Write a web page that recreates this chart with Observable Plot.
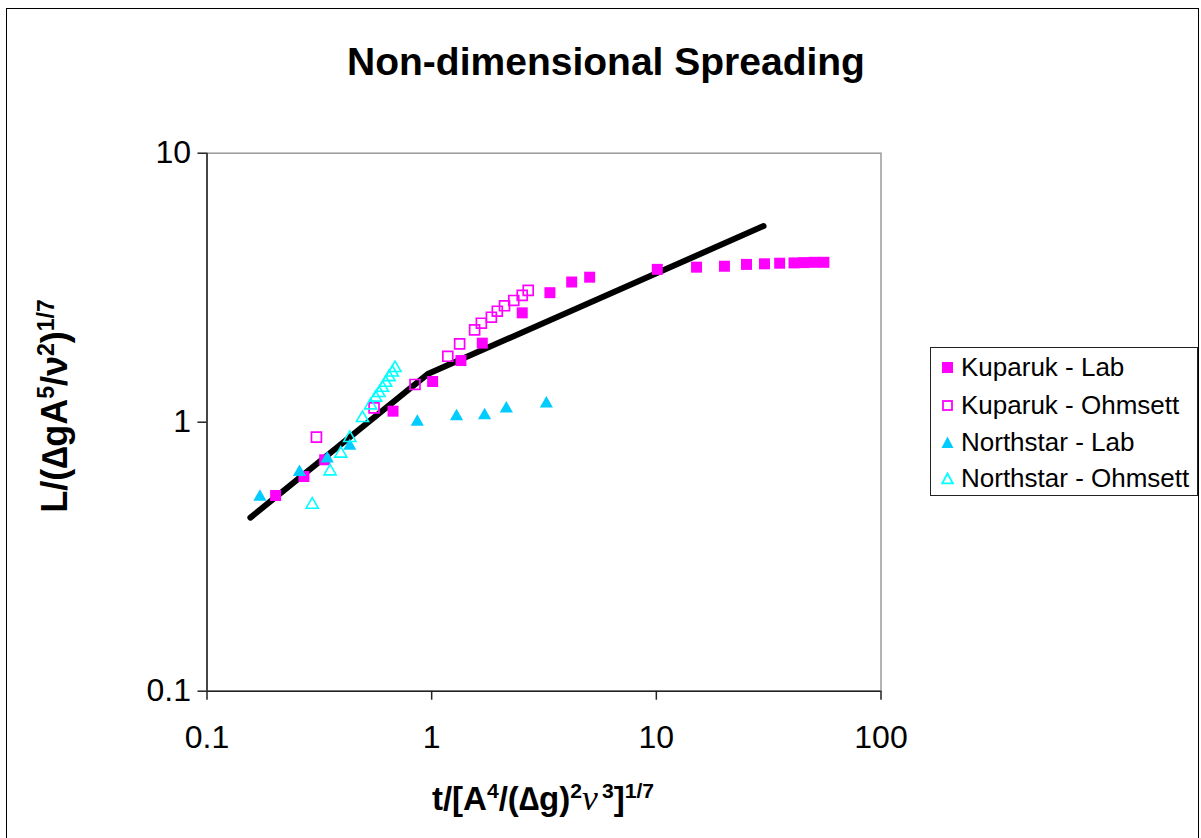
<!DOCTYPE html>
<html><head><meta charset="utf-8">
<script src="https://cdn.jsdelivr.net/npm/d3@7"></script>
<script src="https://cdn.jsdelivr.net/npm/@observablehq/plot@0.6"></script>
<style>
body{margin:0;background:#fff;font-family:"Liberation Sans",Arial,sans-serif;color:#000}
#wrap{position:relative;width:1201px;height:838px;overflow:hidden;background:#fff}
#chart{position:absolute;left:0;top:0}
#border{position:absolute;left:6px;top:8px;width:1193px;height:900px;border:1px solid #000;box-sizing:border-box;z-index:3;pointer-events:none}
#title{position:absolute;left:0;width:1212px;top:39px;text-align:center;font-weight:bold;font-size:39px;line-height:46px;z-index:2}
.lbl{position:absolute;font-weight:bold;font-size:33px;white-space:nowrap;line-height:40px;z-index:2}
.lbl sup{font-size:0.64em;position:relative;top:-0.55em;vertical-align:baseline;line-height:0}
#ylab{left:55px;top:406px;font-size:36px;transform:translate(-50%,-50%) rotate(-90deg)}
#xlab{left:543px;top:798px;transform:translate(-50%,-50%)}
.nu{font-family:"Liberation Serif","Times New Roman",serif;font-style:italic;font-weight:normal;font-size:1.08em}
#legend{position:absolute;left:930px;top:347px;width:268px;height:149px;border:1px solid #222;box-sizing:border-box;background:#fff;z-index:2}
.item{position:absolute;left:0;height:30px;display:flex;align-items:center;font-size:26px;white-space:nowrap}
.item svg{margin-left:9px;margin-right:6px}
</style></head>
<body>
<div id="wrap">
  <div id="chart"></div>
  <div id="border"></div>
  <div id="title">Non-dimensional Spreading</div>
  <div class="lbl" id="ylab">L/(∆gA<sup>5</sup>/ν<sup>2</sup>)<sup>1/7</sup></div>
  <div class="lbl" id="xlab">t/[A<sup>4</sup>/(∆g)<sup>2</sup><span class="nu">ν</span><sup>&#8201;3</sup>]<sup>1/7</sup></div>
  <div id="legend"></div>
</div>
<script>
// ---- data ----
const seriesNames = ["Kuparuk - Lab", "Kuparuk - Ohmsett", "Northstar - Lab", "Northstar - Ohmsett"];

const kupLabX = [0.202, 0.270, 0.334, 0.673, 1.01, 1.35, 1.68, 2.53, 3.36, 4.2, 5.05, 10.1, 15.1, 20.1, 25.2, 30.3, 35.4, 41.0, 45.4, 50.3, 55.7];
const kupLabY = [0.534, 0.628, 0.725, 1.099, 1.417, 1.695, 1.967, 2.55, 3.03, 3.32, 3.46, 3.70, 3.77, 3.80, 3.86, 3.88, 3.90, 3.91, 3.92, 3.93, 3.93];

const kupOhmX = [0.307, 0.554, 0.843, 1.18, 1.332, 1.553, 1.664, 1.844, 1.96, 2.11, 2.32, 2.53, 2.69];
const kupOhmY = [0.88, 1.131, 1.381, 1.758, 1.956, 2.205, 2.333, 2.456, 2.586, 2.709, 2.835, 2.96, 3.09];

const nsLabX = [0.172, 0.258, 0.343, 0.432, 0.863, 1.29, 1.72, 2.15, 3.24];
const nsLabY = [0.534, 0.661, 0.741, 0.826, 1.015, 1.065, 1.074, 1.137, 1.187];

const nsOhmX = [0.294, 0.353, 0.394, 0.432, 0.492, 0.535, 0.563, 0.583, 0.604, 0.624, 0.646, 0.668, 0.687];
const nsOhmY = [0.50, 0.665, 0.774, 0.885, 1.05, 1.17, 1.25, 1.30, 1.36, 1.42, 1.49, 1.55, 1.61];

const fitX = [0.156, 0.96, 30];
const fitY = [0.442, 1.51, 5.36];

const xTicks = [0.1, 1, 10, 100];
const xTickLabels = ["0.1", "1", "10", "100"];
const yTicks = [0.1, 1, 10];
const yTickLabels = ["0.1", "1", "10"];

const colors = {kupLab: "#FF00FF", kupOhm: "#FF00FF", nsLab: "#00CCFF", nsOhm: "#00FFFF"};

const zip = (xs, ys) => xs.map((x, i) => ({x, y: ys[i]}));
const kupLab = zip(kupLabX, kupLabY);
const kupOhm = zip(kupOhmX, kupOhmY);
const nsLab = zip(nsLabX, nsLabY);
const nsOhm = zip(nsOhmX, nsOhmY);
const fit = zip(fitX, fitY);

const chart = Plot.plot({
  width: 1201, height: 838,
  marginLeft: 206.5, marginRight: 320.5, marginTop: 152.7, marginBottom: 147.3,
  x: {type: "log", domain: [0.1, 100], axis: null},
  y: {type: "log", domain: [0.1, 10], axis: null},
  style: {fontFamily: "Liberation Sans, Arial, sans-serif", fontSize: "32px", color: "#000", background: "transparent"},
  marks: [
    Plot.frame({stroke: "#9a9a9a", strokeWidth: 1.5}),
    Plot.ruleX([0.1], {stroke: "#222", strokeWidth: 1.5}),
    Plot.ruleY([0.1], {stroke: "#222", strokeWidth: 1.5}),
    Plot.axisX(xTicks, {tickSize: 9, tickPadding: 25, stroke: "#222", strokeWidth: 1.5, label: null,
      tickFormat: d => xTickLabels[xTicks.indexOf(d)], fontSize: 32}),
    Plot.axisY(yTicks, {tickSize: 9, tickPadding: 7, stroke: "#222", strokeWidth: 1.5, label: null,
      tickFormat: d => yTickLabels[yTicks.indexOf(d)], fontSize: 32}),
    Plot.line(fit, {x: "x", y: "y", stroke: "#000", strokeWidth: 6, strokeLinecap: "round", strokeLinejoin: "round"}),
    Plot.dot(kupLab, {x: "x", y: "y", symbol: "square", r: 6.2, fill: colors.kupLab, stroke: "none"}),
    Plot.dot(kupOhm, {x: "x", y: "y", symbol: "square", r: 5.6, fill: "none", stroke: colors.kupOhm, strokeWidth: 1.7}),
    Plot.dot(nsLab, {x: "x", y: "y", symbol: "triangle", r: 4.9, fill: colors.nsLab, stroke: "none", dy: 1.5}),
    Plot.dot(nsOhm, {x: "x", y: "y", symbol: "triangle", r: 4.5, fill: "none", stroke: colors.nsOhm, strokeWidth: 1.6, dy: 1.5})
  ]
});
document.getElementById("chart").appendChild(chart);

// legend
const legendSyms = [
  `<rect x="2" y="2" width="11" height="11" fill="${colors.kupLab}"/>`,
  `<rect x="3" y="3" width="9" height="9" fill="none" stroke="${colors.kupOhm}" stroke-width="1.8"/>`,
  `<path d="M7.5,1.5 L13.5,13 L1.5,13 Z" fill="${colors.nsLab}"/>`,
  `<path d="M7.5,2.5 L12.8,12.3 L2.2,12.3 Z" fill="none" stroke="${colors.nsOhm}" stroke-width="1.8"/>`
];
const legendTops = [4, 42, 79, 115];
const lg = document.getElementById("legend");
seriesNames.forEach((name, i) => {
  const d = document.createElement("div");
  d.className = "item";
  d.style.top = legendTops[i] + "px";
  d.innerHTML = `<svg width="15" height="15">${legendSyms[i]}</svg><span>${name}</span>`;
  lg.appendChild(d);
});
</script>
</body></html>
